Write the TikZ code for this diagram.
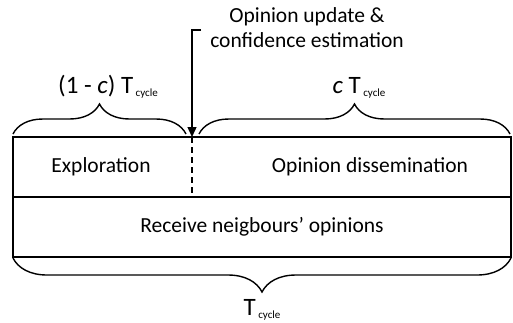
\documentclass[tikz,border=0pt]{standalone}
\usepackage{fontspec}
\setmainfont{Carlito}
\usetikzlibrary{arrows.meta, positioning, decorations.pathreplacing}
\newcommand{\tcyc}{T\raisebox{-3pt}{\fontsize{11}{11}\selectfont\ cycle}}

\begin{document}
\begin{tikzpicture}[
  x=1pt, y=-1pt,
  font=\fontsize{21.5}{25}\selectfont,
  line width=1.4pt,
  cell/.style={draw=black, rectangle, inner sep=0pt, outer sep=0pt, minimum height=60pt},
  lbl/.style={inner sep=0pt, anchor=base, font=\fontsize{25}{28}\selectfont},
  curly/.style={decorate, decoration={brace, amplitude=#1, aspect=0.5}},
  arrow/.style={-{Triangle[length=10pt, width=9pt]}}
]
\useasboundingbox (0,0) rectangle (513,322);

% Cycle boxes
\node[cell, minimum width=498pt] (recv) at (262,227) {Receive neigbours’ opinions};
\node[cell, minimum width=498pt, anchor=south] (row) at (recv.north) {};
\node (explore) at (101,167) {Exploration};
\node (dissem) at (370,167) {Opinion dissemination};

% Phase split
\coordinate (split) at (192,137);
\draw[dashed, dash pattern=on 6pt off 4pt] (split) -- (split |- row.south);

% Update event
\node[align=center, inner sep=0pt] (update) at (307,28) {Opinion update \&\\confidence estimation};
\coordinate (hook) at (201,30);
\draw[arrow] (hook) -- (hook -| split) -- (split);

% Braces
\draw[curly=30pt] (13,134) -- (186,134);
\draw[curly=30pt] (199,134) -- (510,134);
\draw[curly=34pt] (511,258) -- (13,258);
\node[lbl] (lpart) at (108,93) {(1 - \textit{c}) \tcyc};
\node[lbl] (rpart) at (359,93) {\textit{c} \tcyc};
\node[lbl] (total) at (262,315) {\tcyc};

\end{tikzpicture}
\end{document}
